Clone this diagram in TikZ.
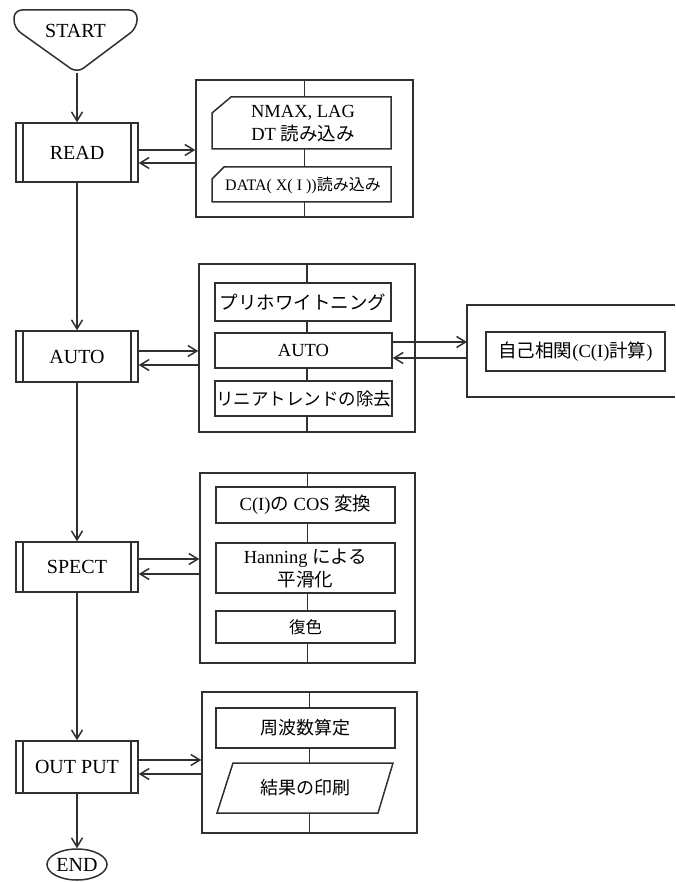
\documentclass[tikz,border=0pt]{standalone}
\usepackage{fontspec}
\setmainfont{Liberation Serif}
\newfontfamily\jp{Noto Sans CJK JP}
\usetikzlibrary{arrows.meta,calc,shapes.geometric}
\pgfdeclarelayer{bg}
\pgfdeclarelayer{mid}
\pgfsetlayers{bg,mid,main}
\definecolor{ink}{HTML}{303030}
\begin{document}
\begin{tikzpicture}[x=1pt,y=-1pt,
  ln/.style={draw=ink, line width=1.5pt},
  arr/.style={ln, -{Straight Barb[length=9pt,width=11pt]}},
  subr/.style={ln, fill=white, minimum width=122pt, inner sep=0pt,
    font=\fontsize{20}{22}\selectfont,
    path picture={\draw[ink, line width=1.4pt]
      ([xshift=7pt]path picture bounding box.north west) -- ([xshift=7pt]path picture bounding box.south west)
      ([xshift=-7pt]path picture bounding box.north east) -- ([xshift=-7pt]path picture bounding box.south east);}},
  cont/.style={ln, inner sep=0pt},
  ibox/.style={ln, fill=white, inner sep=0pt, align=center, font=\fontsize{18.5}{23}\selectfont},
  ttext/.style={inner sep=0pt, align=center, font=\fontsize{18.5}{23}\selectfont},
  term/.style={ln, fill=white, inner sep=0pt, font=\fontsize{20}{22}\selectfont}
]
\useasboundingbox (0,0) rectangle (675,882);

% START terminal
\draw[ln, rounded corners=8pt] (77,73) -- (14,28) -- (14,10) -- (137,10) -- (137,28) -- cycle;
\node[inner sep=0pt, font=\fontsize{20}{22}\selectfont] (start) at (75.5,31) {START};
\coordinate (startpt) at (77,73);

% main column
\node[subr, minimum height=59pt] (read) at (77,152.5) {READ};
\node[subr, minimum height=51pt] (auto) at (77,356.5) {AUTO};
\node[subr, minimum height=50pt] (spect) at (77,567) {SPECT};
\node[subr, minimum height=52pt] (output) at (77,767) {OUT PUT};
\node[term, ellipse, minimum width=60pt, minimum height=31pt] (end) at (77,864.5) {END};

\draw[arr] (startpt) -- (read);
\draw[arr] (read) -- (auto);
\draw[arr] (auto) -- (spect);
\draw[arr] (spect) -- (output);
\draw[arr] (output) -- (end);

% container 1
\node[cont, minimum width=217pt, minimum height=137pt] (c1) at (304.5,148.5) {};
\begin{pgfonlayer}{bg}
\draw[ln] (c1.north) -- (c1.south);
\end{pgfonlayer}
\begin{pgfonlayer}{mid}
\filldraw[ln, fill=white] (212,113) -- (231,97) -- (391,97) -- (391,149) -- (212,149) -- cycle;
\filldraw[ln, fill=white] (212,179) -- (224,167) -- (391,167) -- (391,202) -- (212,202) -- cycle;
\end{pgfonlayer}
\node[ttext] (nmax) at (303,124) {NMAX, LAG\\DT {\jp 読み込み}};
\node[ttext, font=\fontsize{16}{20}\selectfont] (data) at (303,185) {DATA( X( I ))\jp 読み込み};
\draw[arr] (read.east |- 0,150) -- (c1.west |- 0,150);
\draw[arr] (c1.west |- 0,163) -- (read.east |- 0,163);

% container 2
\node[cont, minimum width=216pt, minimum height=168pt] (c2) at (307,348) {};
\begin{pgfonlayer}{bg}
\draw[ln] (c2.north) -- (c2.south);
\end{pgfonlayer}
\node[ibox, minimum width=176pt, minimum height=38pt] (pw) at (303,302) {\jp プリホワイトニング};
\node[ibox, minimum width=177pt, minimum height=35pt] (auto2) at (303.5,350.5) {AUTO};
\node[ibox, minimum width=177pt, minimum height=35pt, font=\jp\fontsize{17.5}{22}\selectfont] (lt) at (303.5,398.5) {リニアトレンドの除去};
\draw[arr] (auto.east |- 0,351) -- (c2.west |- 0,351);
\draw[arr] (c2.west |- 0,365) -- (auto.east |- 0,365);

% container 3 (open to the right)
\draw[ln] (675,305) -- (467,305) -- (467,397) -- (675,397);
\coordinate (c3w) at (467,351);
\node[ibox, minimum width=179pt, minimum height=39pt] (ac) at (575.5,351.5) {{\jp 自己相関}(C(I){\jp 計算})};
\draw[arr] (auto2.east |- 0,342) -- (c3w |- 0,342);
\draw[arr] (c3w |- 0,358) -- (auto2.east |- 0,358);

% container 4
\node[cont, minimum width=215pt, minimum height=190pt] (c4) at (307.5,568) {};
\begin{pgfonlayer}{bg}
\draw[ln] (c4.north) -- (c4.south);
\end{pgfonlayer}
\node[ibox, minimum width=179pt, minimum height=36pt] (cos) at (305.5,505) {C(I){\jp の} COS {\jp 変換}};
\node[ibox, minimum width=179pt, minimum height=50pt] (han) at (305.5,568) {Hanning {\jp による}\\{\jp 平滑化}};
\node[ibox, minimum width=179pt, minimum height=32pt, font=\jp\fontsize{16.5}{20}\selectfont] (fuku) at (305.5,627) {復色};
\draw[arr] (spect.east |- 0,559) -- (c4.west |- 0,559);
\draw[arr] (c4.west |- 0,574) -- (spect.east |- 0,574);

% container 5
\node[cont, minimum width=215pt, minimum height=141pt] (c5) at (309.5,762.5) {};
\begin{pgfonlayer}{bg}
\draw[ln] (c5.north) -- (c5.south);
\end{pgfonlayer}
\node[ibox, minimum width=179pt, minimum height=40pt, font=\jp\fontsize{18}{22}\selectfont] (freq) at (305.5,728) {周波数算定};
\begin{pgfonlayer}{mid}
\filldraw[ln, fill=white] (233,763) -- (393,763) -- (378,813) -- (217,813) -- cycle;
\end{pgfonlayer}
\node[ttext, font=\jp\fontsize{18}{22}\selectfont] (print) at (305,788) {結果の印刷};
\draw[arr] (output.east |- 0,760) -- (c5.west |- 0,760);
\draw[arr] (c5.west |- 0,774) -- (output.east |- 0,774);
\end{tikzpicture}
\end{document}
